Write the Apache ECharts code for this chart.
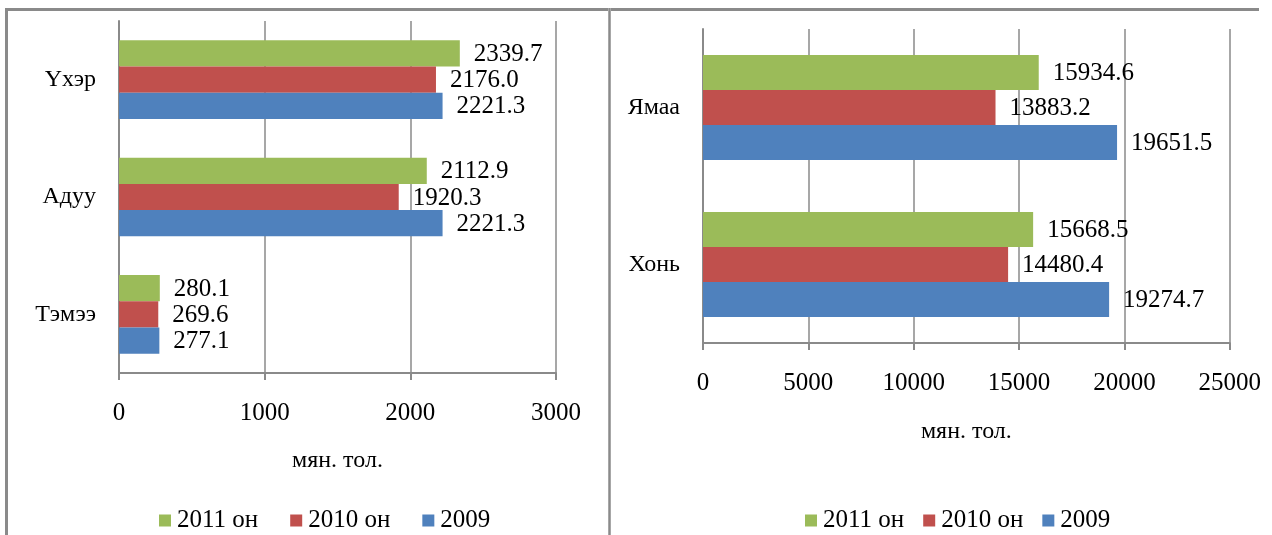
<!DOCTYPE html>
<html>
<head>
<meta charset="utf-8">
<script src="https://cdn.jsdelivr.net/npm/echarts@6/dist/echarts.min.js"></script>
<style>
html,body{margin:0;padding:0;background:#fff;overflow:hidden;}
#chart{width:1264px;height:535px;}
</style>
</head>
<body>
<div id="chart"></div>
<script>
// ---- data ----
const categoriesLeft = ['Тэмээ', 'Адуу', 'Үхэр'];
const left2009 = [277.1, 2221.3, 2221.3];
const left2010 = [269.6, 1920.3, 2176.0];
const left2011 = [280.1, 2112.9, 2339.7];

const categoriesRight = ['Хонь', 'Ямаа'];
const right2009 = [19274.7, 19651.5];
const right2010 = [14480.4, 13883.2];
const right2011 = [15668.5, 15934.6];

const seriesNames = ['2011 он', '2010 он', '2009'];
const legendOrder = ['2011 он', '2010 он', '2009'];
const axisName = 'мян. тол.';
const leftScale = { min: 0, max: 3000, interval: 1000 };
const rightScale = { min: 0, max: 25000, interval: 5000 };

// ---- style ----
const W = 1264;
const FONT = 'Liberation Serif, Times New Roman, DejaVu Serif, serif';
const GREY = '#8a8a8a';
const colors = { '2009': '#4F81BD', '2010 он': '#C0504D', '2011 он': '#9BBB59' };

function xAxisCfg(gridIndex, scale, nameGap) {
  return {
    type: 'value', gridIndex: gridIndex,
    min: scale.min, max: scale.max, interval: scale.interval,
    name: axisName, nameLocation: 'middle', nameGap: nameGap,
    nameTextStyle: { fontFamily: FONT, fontSize: 24, color: '#000' },
    axisLine: { show: true, lineStyle: { color: GREY, width: 2 } },
    axisTick: { show: true, length: 7, lineStyle: { color: GREY, width: 2 } },
    axisLabel: { fontFamily: FONT, fontSize: 25, color: '#000', margin: 28,
                 formatter: v => String(v) },
    splitLine: { show: true, lineStyle: { color: GREY, width: 1.5 } }
  };
}
function yAxisCfg(gridIndex, cats) {
  return {
    type: 'category', gridIndex: gridIndex, data: cats,
    axisLine: { show: true, lineStyle: { color: GREY, width: 2 } },
    axisTick: { show: false },
    axisLabel: { fontFamily: FONT, fontSize: 24, color: '#000', margin: 23 },
    splitLine: { show: false }
  };
}
function barSeries(name, data, idx) {
  return {
    type: 'bar', name: name, data: data,
    xAxisIndex: idx, yAxisIndex: idx,
    barGap: '0%', barCategoryGap: '33%',
    itemStyle: { color: colors[name] },
    label: {
      show: true, position: 'right', distance: 14, offset: [0, 1],
      fontFamily: FONT, fontSize: 25, color: '#000',
      formatter: p => Number(p.value).toFixed(1)
    },
    emphasis: { disabled: true },
    animation: false
  };
}

const leftData = { '2009': left2009, '2010 он': left2010, '2011 он': left2011 };
const rightData = { '2009': right2009, '2010 он': right2010, '2011 он': right2011 };
const series = [];
seriesNames.forEach(n => series.push(barSeries(n, leftData[n], 0)));
seriesNames.forEach(n => series.push(barSeries(n, rightData[n], 1)));

function legendCfg(left, gap) {
  return {
    data: legendOrder, left: left, top: 503,
    orient: 'horizontal', icon: 'rect',
    itemWidth: 12, itemHeight: 12, itemGap: gap,
    selectedMode: false,
    textStyle: { fontFamily: FONT, fontSize: 25, color: '#000', padding: [0, 0, 0, 1] }
  };
}

const chart = echarts.init(document.getElementById('chart'), null, { renderer: 'canvas' });
chart.setOption({
  backgroundColor: '#fff',
  animation: false,
  grid: [
    { left: 119, right: W - 556, top: 21, bottom: 535 - 373, containLabel: false },
    { left: 703, right: W - 1230, top: 29, bottom: 535 - 343, containLabel: false }
  ],
  xAxis: [xAxisCfg(0, leftScale, 76), xAxisCfg(1, rightScale, 77)],
  yAxis: [yAxisCfg(0, categoriesLeft), yAxisCfg(1, categoriesRight)],
  legend: [legendCfg(154, 32), legendCfg(800, 19)],
  series: series,
  graphic: [
    { type: 'line', shape: { x1: 5, y1: 9.5, x2: 608, y2: 9.5 }, style: { stroke: GREY, lineWidth: 3 }, silent: true },
    { type: 'line', shape: { x1: 611, y1: 9.5, x2: 1259, y2: 9.5 }, style: { stroke: GREY, lineWidth: 3 }, silent: true },
    { type: 'line', shape: { x1: 6.5, y1: 8, x2: 6.5, y2: 535 }, style: { stroke: GREY, lineWidth: 3 }, silent: true },
    { type: 'line', shape: { x1: 609.5, y1: 8, x2: 609.5, y2: 535 }, style: { stroke: GREY, lineWidth: 2.5 }, silent: true }
  ]
});
</script>
</body>
</html>
